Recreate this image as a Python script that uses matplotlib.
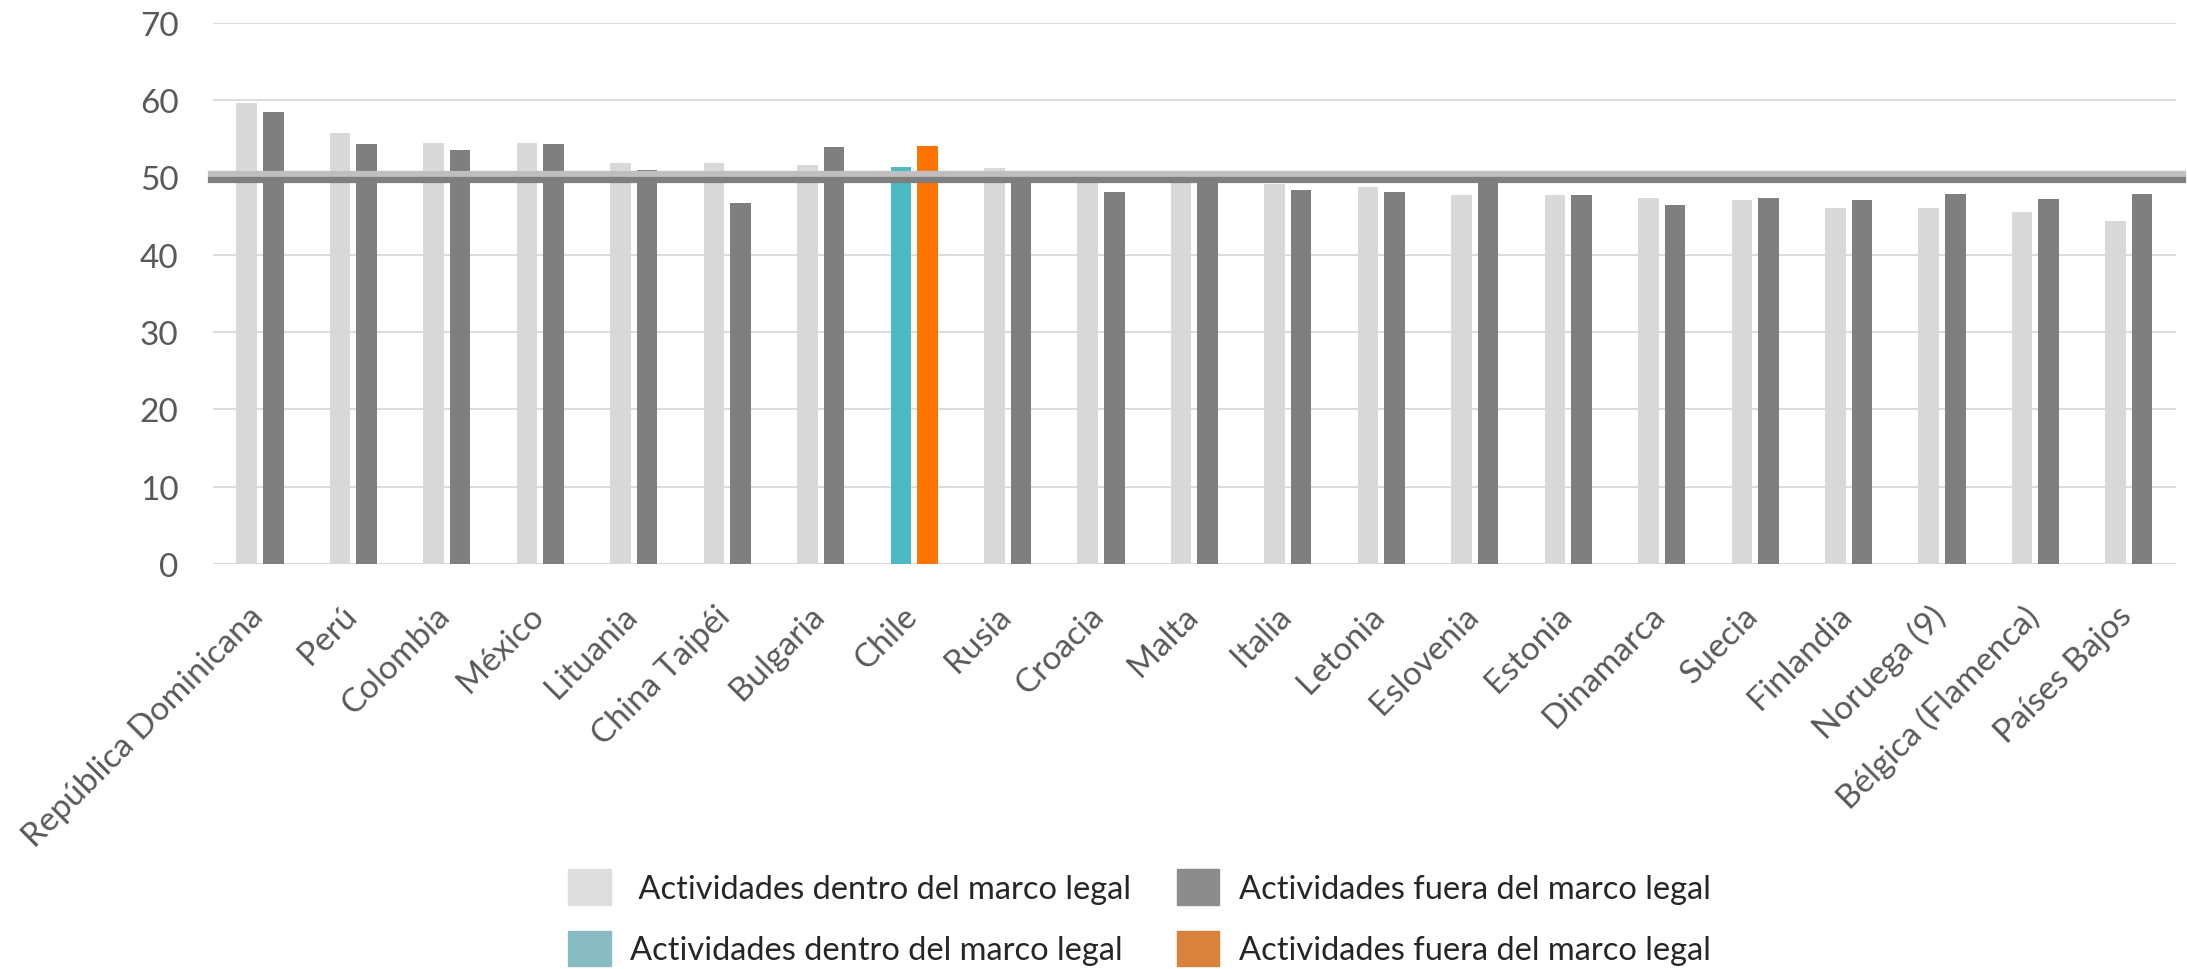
import numpy as np
import matplotlib.pyplot as plt
from matplotlib.patches import Patch
from matplotlib.transforms import ScaledTranslation

# Datos
paises = ['República Dominicana', 'Perú', 'Colombia', 'México', 'Lituania',
          'China Taipéi', 'Bulgaria', 'Chile', 'Rusia', 'Croacia', 'Malta',
          'Italia', 'Letonia', 'Eslovenia', 'Estonia', 'Dinamarca', 'Suecia',
          'Finlandia', 'Noruega (9)', 'Bélgica (Flamenca)', 'Países Bajos']
dentro = [59.6, 55.7, 54.5, 54.4, 51.9, 51.8, 51.6, 51.3, 51.2, 49.6, 49.8,
          49.1, 48.8, 47.7, 47.7, 47.3, 47.1, 46.0, 46.0, 45.5, 44.4]
fuera = [58.5, 54.3, 53.5, 54.3, 51.0, 46.7, 53.9, 54.0, 49.9, 48.1, 50.1,
         48.4, 48.1, 50.0, 47.7, 46.4, 47.4, 47.1, 47.9, 47.2, 47.8]
media_dentro = 50.5
media_fuera = 49.7
destacado = 'Chile'

label_dentro = 'Actividades dentro del marco legal'
label_fuera = 'Actividades fuera del marco legal'

plt.rcParams['font.family'] = ['Lato', 'DejaVu Sans']

fig = plt.figure(figsize=(21.87, 9.7), dpi=100)
ax = fig.add_axes([0.0975, 0.4175, 0.8973, 0.558])

x = np.arange(len(paises))
w = 0.22
off = 0.142
col_dentro = ['#4BBAC4' if p == destacado else '#D9D9D9' for p in paises]
col_fuera = ['#FF7300' if p == destacado else '#7F7F7F' for p in paises]

ax.bar(x - off, dentro, w, color=col_dentro, zorder=2)
ax.bar(x + off, fuera, w, color=col_fuera, zorder=2)

# líneas de promedio (sobresalen un poco del área del gráfico)
ax.axhline(media_dentro, xmin=-0.0013, xmax=1.0036, color='#BFBFBF', lw=4.5,
           zorder=3, clip_on=False)
ax.axhline(media_fuera, xmin=-0.0013, xmax=1.0036, color='#7F7F7F', lw=4.5,
           zorder=3, clip_on=False)

ax.set_xlim(-0.5, len(paises) - 0.5)
ax.set_ylim(0, 70)
ax.set_yticks(range(0, 71, 10))
ax.yaxis.grid(True, color='#D9D9D9', lw=1.3, zorder=0)
ax.set_axisbelow(True)
for s in ax.spines.values():
    s.set_visible(False)
ax.tick_params(length=0)
ax.tick_params(axis='y', labelsize=24, labelcolor='#595959', pad=25)
ax.set_xticks(x)
ax.set_xticklabels(paises, rotation=45, ha='right', rotation_mode='anchor',
                   fontsize=24, color='#595959')
ax.tick_params(axis='x', pad=26)
shift = ScaledTranslation(-0.12, 0, fig.dpi_scale_trans)
for lab in ax.get_xticklabels():
    lab.set_transform(lab.get_transform() + shift)

handles = [Patch(color='#DEDEDE'), Patch(color='#88BBC2'),
           Patch(color='#8C8C8C'), Patch(color='#D9823B')]
labels = [' ' + label_dentro, label_dentro, label_fuera, label_fuera]
fig.legend(handles, labels, ncol=2, loc='center', bbox_to_anchor=(0.521, 0.053),
           frameon=False, fontsize=23.5, handlelength=1.3, handleheight=1.3,
           labelspacing=0.8, columnspacing=1.4, handletextpad=0.6,
           labelcolor='#262626')

fig.savefig('out.png', dpi=100)
